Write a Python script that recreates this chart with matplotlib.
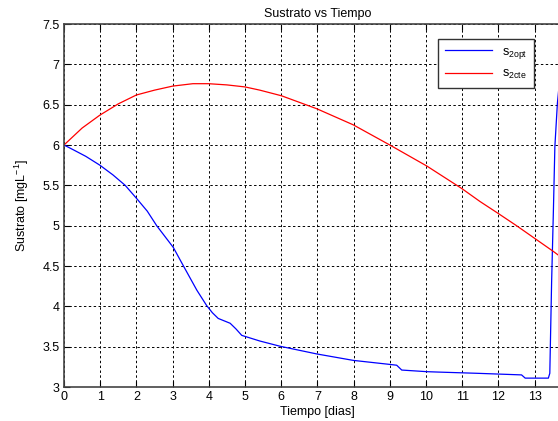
import matplotlib.pyplot as plt

plt.rcParams["font.family"] = ["Liberation Sans", "DejaVu Sans"]
plt.rcParams["mathtext.default"] = "regular"

# s2 optimo (blue)
t_opt = [0, 0.26, 0.6, 0.99, 1.35, 1.69, 2.0, 2.3, 2.56, 3.02, 3.3, 3.67, 3.94, 4.1,
         4.26, 4.59, 4.75, 4.91, 5.41, 5.97, 6.98, 7.99, 9.0, 9.19, 9.33, 10.02,
         10.34, 11.4, 12.64, 12.74, 13.38, 13.42, 13.47, 13.52, 13.56, 13.63, 13.68]
s_opt = [6.0, 5.94, 5.86, 5.75, 5.63, 5.5, 5.34, 5.18, 5.0, 4.73, 4.5, 4.2, 4.01, 3.92,
         3.85, 3.79, 3.72, 3.64, 3.57, 3.505, 3.41, 3.33, 3.28, 3.27, 3.21, 3.19,
         3.185, 3.17, 3.15, 3.11, 3.11, 3.17, 4.3, 5.2, 5.98, 6.52, 6.75]

# s2 constante (red)
t_cte = [0, 0.5, 0.99, 1.5, 2.0, 2.5, 3.0, 3.56, 3.99, 4.5, 5.0, 5.41, 6.01,
         6.98, 7.99, 9.0, 10.02, 10.99, 11.49, 12.0, 12.5, 13.01, 13.52, 13.7]
s_cte = [6.0, 6.21, 6.37, 6.51, 6.62, 6.68, 6.73, 6.76, 6.76, 6.745, 6.72, 6.68,
         6.61, 6.45, 6.25, 6.0, 5.74, 5.46, 5.3, 5.15, 5.0, 4.84, 4.68, 4.62]

xticks = list(range(0, 14))
yticks = [3, 3.5, 4, 4.5, 5, 5.5, 6, 6.5, 7, 7.5]
ytick_labels = ["3", "3.5", "4", "4.5", "5", "5.5", "6", "6.5", "7", "7.5"]

fig = plt.figure(figsize=(5.58, 4.21), dpi=100)
# axes runs past the right edge, like the cropped original
ax = fig.add_axes([64 / 558, 34 / 421, 506.8 / 558, 363 / 421])

ax.plot(t_opt, s_opt, color="#0000ff", linewidth=0.9, label="s$_{2opt}$")
ax.plot(t_cte, s_cte, color="#ff0000", linewidth=0.9, label="s$_{2cte}$")

ax.set_xlim(0, 14)
ax.set_ylim(3, 7.5)
ax.set_xticks(xticks)
ax.set_yticks(yticks)
ax.set_yticklabels(ytick_labels)
ax.tick_params(direction="in", labelsize=9, length=4, top=True, right=True, pad=3)
ax.grid(True, color="black", linestyle=(0, (2.5, 2.5)), linewidth=0.7)
for sp in ax.spines.values():
    sp.set_color("#444444")
    sp.set_linewidth(1.2)

ax.set_title("Sustrato vs Tiempo", fontsize=9, pad=5)
ax.set_xlabel("Tiempo [dias]", fontsize=9, labelpad=2)
ax.set_ylabel("Sustrato [mgL$^{-1}$]", fontsize=9, labelpad=8)

leg = ax.legend(loc="upper left", bbox_to_anchor=(368 / 506.8, 0.975), fontsize=9,
                fancybox=False, framealpha=1, edgecolor="#333333", handlelength=3.8,
                borderpad=0.5, labelspacing=0.6)
leg.get_frame().set_linewidth(1.0)

fig.savefig("out.png", dpi=100)
